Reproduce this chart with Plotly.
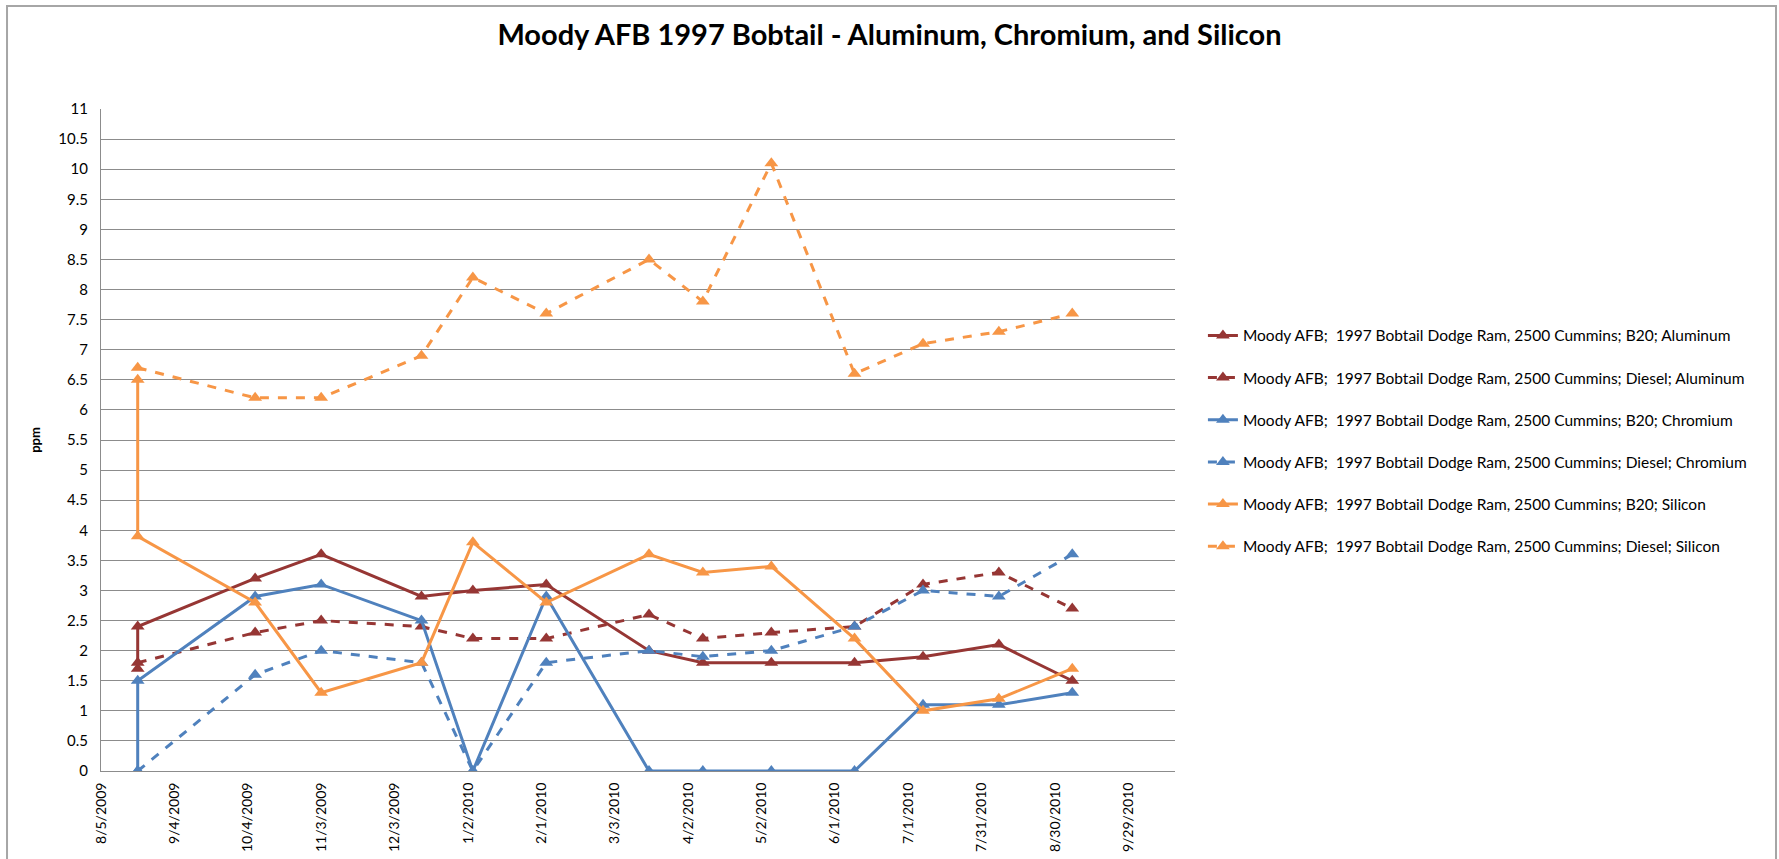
import pandas as pd
import plotly.graph_objs as go

# sample dates (B20 series have two samples on the first date)
dates = ['2009-08-20', '2009-10-07', '2009-11-03', '2009-12-14', '2010-01-04',
         '2010-02-03', '2010-03-17', '2010-04-08', '2010-05-06', '2010-06-09',
         '2010-07-07', '2010-08-07', '2010-09-06']
b20_dates = [dates[0]] + dates

al_b20 = [1.7, 2.4, 3.2, 3.6, 2.9, 3.0, 3.1, 2.0, 1.8, 1.8, 1.8, 1.9, 2.1, 1.5]
al_diesel = [1.8, 2.3, 2.5, 2.4, 2.2, 2.2, 2.6, 2.2, 2.3, 2.4, 3.1, 3.3, 2.7]
cr_b20 = [0, 1.5, 2.9, 3.1, 2.5, 0, 2.9, 0, 0, 0, 0, 1.1, 1.1, 1.3]
cr_diesel = [0, 1.6, 2.0, 1.8, 0, 1.8, 2.0, 1.9, 2.0, 2.4, 3.0, 2.9, 3.6]
si_b20 = [6.5, 3.9, 2.8, 1.3, 1.8, 3.8, 2.8, 3.6, 3.3, 3.4, 2.2, 1.0, 1.2, 1.7]
si_diesel = [6.7, 6.2, 6.2, 6.9, 8.2, 7.6, 8.5, 7.8, 10.1, 6.6, 7.1, 7.3, 7.6]

# x axis ticks every 30 days
tick_dates = pd.date_range('2009-08-05', periods=15, freq='30D')
tick_text = [f"{d.month}/{d.day}/{d.year}" for d in tick_dates]

prefix = "Moody AFB;  1997 Bobtail Dodge Ram, 2500 Cummins; "
RED = '#963634'
BLUE = '#4F81BD'
ORANGE = '#F79646'

series = [
    (b20_dates, al_b20, 'B20; Aluminum', RED, 'solid'),
    (dates, al_diesel, 'Diesel; Aluminum', RED, 'dash'),
    (b20_dates, cr_b20, 'B20; Chromium', BLUE, 'solid'),
    (dates, cr_diesel, 'Diesel; Chromium', BLUE, 'dash'),
    (b20_dates, si_b20, 'B20; Silicon', ORANGE, 'solid'),
    (dates, si_diesel, 'Diesel; Silicon', ORANGE, 'dash'),
]

fig = go.Figure()
for i, (x, y, label, color, dash) in enumerate(series):
    fig.add_trace(go.Scatter(
        x=x, y=y, mode='lines+markers', name=prefix + label,
        legendgroup=str(i),
        line=dict(color=color, width=3, dash=dash),
        marker=dict(symbol='triangle-up', size=12, color=color),
    ))

grid = '#8c8c8c'
fig.update_layout(
    width=1779, height=859,
    paper_bgcolor='white', plot_bgcolor='white',
    margin=dict(l=101, r=604, t=109, b=88),
    title=dict(text='<b>Moody AFB 1997 Bobtail - Aluminum, Chromium, and Silicon</b>',
               x=0.5, xanchor='center', y=0.96, yanchor='middle',
               font=dict(family='Lato', size=29, color='black')),
    legend=dict(x=1.026, y=0.683, xanchor='left', yanchor='top',
                font=dict(family='Lato', size=15.5, color='black'),
                tracegroupgap=19, bgcolor='rgba(0,0,0,0)'),
    xaxis=dict(
        type='date', range=['2009-08-05', '2010-10-18'],
        tickvals=tick_dates, ticktext=tick_text, tickangle=-90,
        showgrid=False, showline=True, linecolor=grid, linewidth=1,
        ticks='outside', ticklen=5, tickcolor='rgba(0,0,0,0)',
        tickfont=dict(family='Lato', size=14, color='black'),
        automargin=False,
    ),
    yaxis=dict(
        range=[0, 11], dtick=0.5, tick0=0,
        showgrid=True, gridcolor=grid, gridwidth=1,
        showline=True, linecolor=grid, linewidth=1,
        ticks='outside', ticklen=9, tickcolor='rgba(0,0,0,0)',
        zeroline=False, automargin=False,
        tickfont=dict(family='Lato', size=15, color='black'),
        title=dict(text='<b>ppm</b>', standoff=14,
                   font=dict(family='Lato', size=13, color='black')),
    ),
    shapes=[dict(type='rect', xref='paper', yref='paper',
                 x0=-0.0875, x1=1.5596, y0=-0.5, y1=1.1556,
                 line=dict(color='#a6a6a6', width=2))],
)

fig.write_html("out.html", config={'displayModeBar': False},
               post_script="document.body.style.margin='0';")
